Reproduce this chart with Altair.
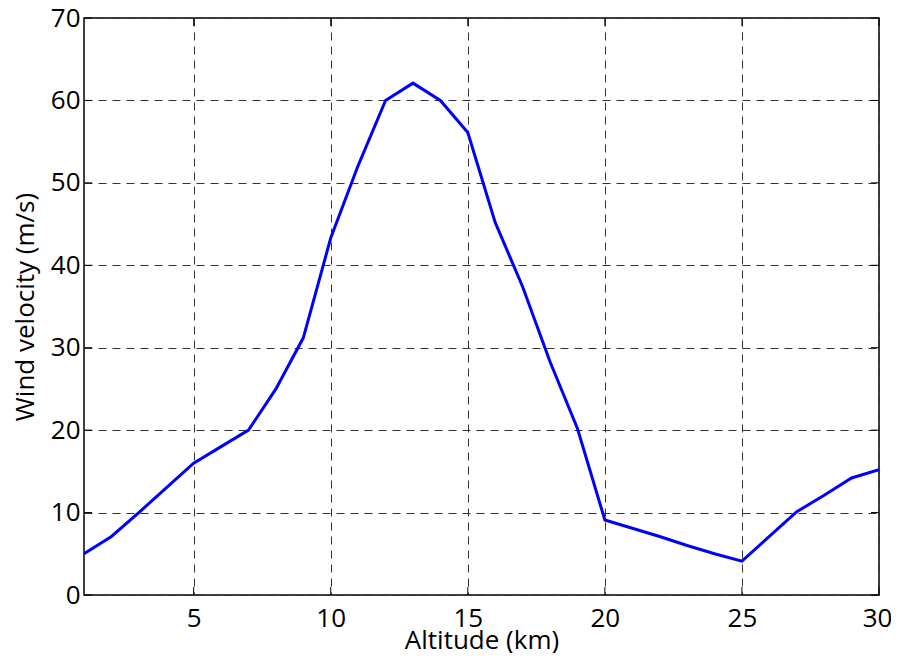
import altair as alt
import pandas as pd

altitude = list(range(1, 31))
velocity = [5, 7.1, 10, 13, 16, 18, 20, 25, 31.2, 43.3,
            52.1, 60, 62.1, 60, 56.1, 45.2, 37.4, 28.3, 20.2, 9.1,
            8.1, 7.1, 6.0, 5.0, 4.1, 7.1, 10.1, 12.1, 14.2, 15.2]
x_ticks = [5, 10, 15, 20, 25, 30]
y_ticks = [0, 10, 20, 30, 40, 50, 60, 70]

W, H = 795, 577
FONT = "Open Sans"

df = pd.DataFrame({"alt": altitude, "vel": velocity})
xt = pd.DataFrame({"x": x_ticks})
yt = pd.DataFrame({"y": y_ticks})

xscale = alt.Scale(domain=[1, 30], nice=False, zero=False)
yscale = alt.Scale(domain=[0, 70], nice=False)

line = alt.Chart(df).mark_line(color="#0000FF", strokeWidth=3, clip=True).encode(
    x=alt.X("alt:Q", scale=xscale,
            axis=alt.Axis(title="Altitude (km)", values=x_ticks, labelPadding=10,
                          titlePadding=-4, labelFlush=False,
                          labelOffset={"condition": {"test": "datum.value == 30", "value": -2},
                                       "value": 0})),
    y=alt.Y("vel:Q", scale=yscale,
            axis=alt.Axis(title="Wind velocity (m/s)", values=y_ticks, labelPadding=4,
                          titlePadding=12)),
)

tick_len = 8
yl = alt.Chart(yt).mark_rule(color="black", strokeWidth=1).encode(
    y=alt.Y("y:Q", scale=yscale), x=alt.value(0), x2=alt.value(tick_len))
yr = alt.Chart(yt).mark_rule(color="black", strokeWidth=1).encode(
    y=alt.Y("y:Q", scale=yscale), x=alt.value(W - tick_len), x2=alt.value(W))
xb = alt.Chart(xt).mark_rule(color="black", strokeWidth=1).encode(
    x=alt.X("x:Q", scale=xscale), y=alt.value(H - tick_len), y2=alt.value(H))
xtop = alt.Chart(xt).mark_rule(color="black", strokeWidth=1).encode(
    x=alt.X("x:Q", scale=xscale), y=alt.value(0), y2=alt.value(tick_len))

chart = alt.layer(yl, yr, xb, xtop, line).properties(
    width=W, height=H,
    background="white",
    autosize=alt.AutoSizeParams(type="none"),
    padding={"left": 76, "top": 10, "right": 12, "bottom": 58},
).configure_view(
    stroke="black", strokeWidth=1.5
).configure_axis(
    labelFont=FONT, labelFontSize=26, labelColor="black",
    titleFont=FONT, titleFontSize=26, titleFontWeight="normal", titleColor="black",
    grid=True, gridDash=[8, 6], gridColor="#333333", gridWidth=1, gridOpacity=1,
    ticks=False, domain=False,
)

chart.save("out.html", embed_options={"renderer": "svg", "actions": False})
